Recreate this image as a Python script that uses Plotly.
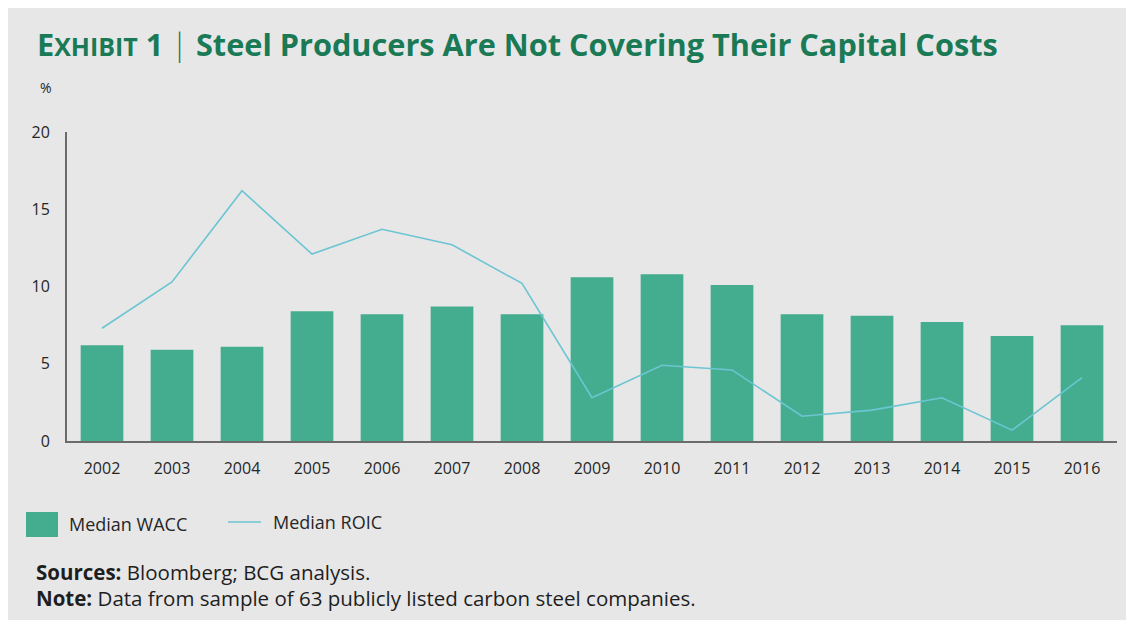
import plotly.graph_objects as go

years = ["2002", "2003", "2004", "2005", "2006", "2007", "2008", "2009",
         "2010", "2011", "2012", "2013", "2014", "2015", "2016"]
wacc = [6.2, 5.9, 6.1, 8.4, 8.2, 8.7, 8.2, 10.6, 10.8, 10.1, 8.2, 8.1, 7.7, 6.8, 7.5]
roic = [7.3, 10.3, 16.2, 12.1, 13.7, 12.7, 10.2, 2.8, 4.9, 4.6, 1.6, 2.0, 2.8, 0.7, 4.1]
y_ticks = [0, 5, 10, 15, 20]

# page is offset by the default 8px body margin
OFF = 8
W, H = 1126, 612
L, R, T, B = 59, 17, 124, 179
PW, PH = W - L - R, H - T - B

BG = "#e7e7e8"
BAR = "#45ad8f"
LINE = "#6cc5d2"
GREEN = "#1a7a56"
TXT = "#262626"
FONT = "Open Sans"


def px(x):
    return (x - OFF - L) / PW


def py(y):
    return (H - B - (y - OFF)) / PH


fig = go.Figure()
fig.add_trace(go.Bar(x=years, y=wacc, name="Median WACC", marker_color=BAR,
                     marker_line_width=0, showlegend=False))
fig.add_trace(go.Scatter(x=years, y=roic, name="Median ROIC", mode="lines",
                         line=dict(color=LINE, width=1.6), showlegend=False))

shapes = [
    dict(type="rect", xref="paper", yref="paper", x0=px(26), x1=px(58), y0=py(512), y1=py(537),
         fillcolor=BAR, line_width=0),
    dict(type="line", xref="paper", yref="paper", x0=px(228), x1=px(261), y0=py(522), y1=py(522),
         line=dict(color=LINE, width=1.6)),
]

annotations = [
    dict(text="%", xref="paper", yref="paper", x=px(46), y=py(88), showarrow=False,
         xanchor="center", yanchor="middle", font=dict(size=14, color=TXT, family=FONT)),
    dict(text="Median WACC", xref="paper", yref="paper", x=px(67), y=py(524), showarrow=False,
         xanchor="left", yanchor="middle", font=dict(size=18, color=TXT, family=FONT)),
    dict(text="Median ROIC", xref="paper", yref="paper", x=px(271), y=py(522), showarrow=False,
         xanchor="left", yanchor="middle", font=dict(size=18, color=TXT, family=FONT)),
    dict(text="<b>Sources:</b> Bloomberg; BCG analysis.", xref="paper", yref="paper",
         x=px(34), y=py(572), showarrow=False, xanchor="left", yanchor="middle",
         font=dict(size=20.5, color="#1e1e1e", family=FONT)),
    dict(text="<b>Note:</b> Data from sample of 63 publicly listed carbon steel companies.",
         xref="paper", yref="paper", x=px(34), y=py(598), showarrow=False, xanchor="left",
         yanchor="middle", font=dict(size=20.5, color="#1e1e1e", family=FONT)),
]

title_text = ("<b>E<span style='font-size:25px'>XHIBIT</span> 1 "
              "<span style='font-weight:300'>|</span> "
              "Steel Producers Are Not Covering Their Capital Costs</b>")

fig.update_layout(
    width=W, height=H,
    margin=dict(l=L, r=R, t=T, b=B),
    paper_bgcolor=BG,
    plot_bgcolor=BG,
    bargap=0.39,
    title=dict(text=title_text, xref="container", yref="container",
               x=(37 - OFF) / W, xanchor="left", y=1 - (45 - OFF) / H, yanchor="middle",
               font=dict(size=30.7, color=GREEN, family=FONT)),
    xaxis=dict(type="category", showgrid=False, showline=True, linecolor="#6b6b6b",
               linewidth=2, ticks="", ticklabelstandoff=12,
               tickfont=dict(size=16, color=TXT, family=FONT), fixedrange=True),
    yaxis=dict(range=[0, 20], tickvals=y_ticks, showgrid=False, zeroline=False,
               showline=True, linecolor="#6b6b6b", linewidth=2, ticks="",
               ticklabelstandoff=12, tickfont=dict(size=16, color=TXT, family=FONT)),
    shapes=shapes,
    annotations=annotations,
)

fig.write_html("out.html")
